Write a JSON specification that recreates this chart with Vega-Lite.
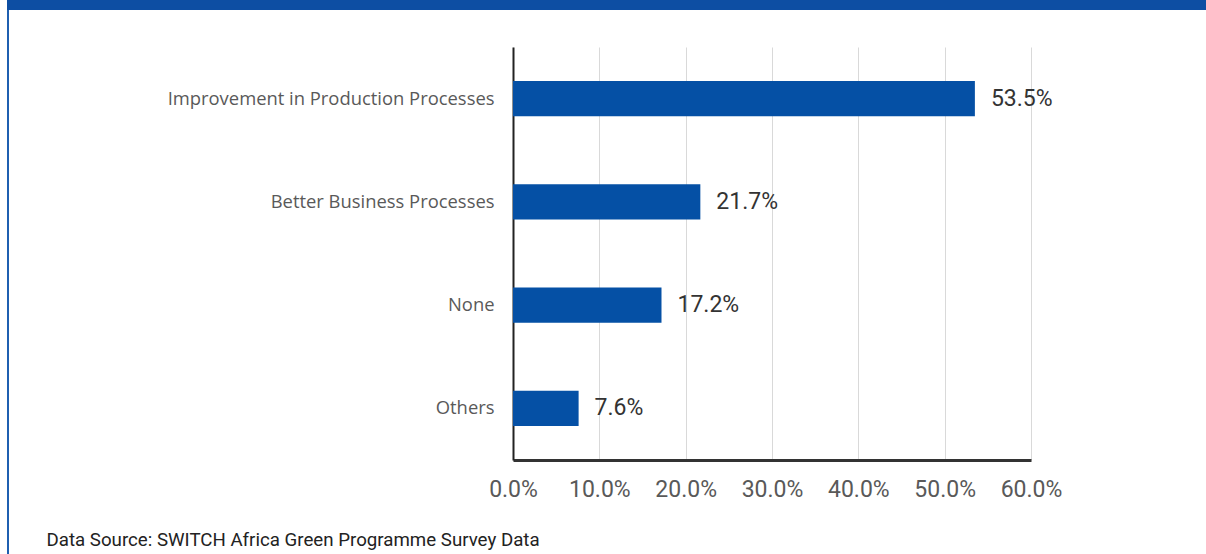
{
  "$schema": "https://vega.github.io/schema/vega-lite/v6.json",
  "padding": 0,
  "background": "white",
  "columns": 1,
  "align": "none",
  "spacing": 0,
  "config": {"view": {"stroke": null}, "font": "Roboto"},
  "concat": [
    {
      "width": 1206,
      "height": 10,
      "view": {"fill": "#0d4ea3", "stroke": null},
      "data": {"values": []},
      "mark": "point",
      "encoding": {}
    },
    {
      "width": 2,
      "height": 37,
      "view": {"fill": "#1f5fb0", "stroke": null},
      "data": {"values": []},
      "mark": "point",
      "encoding": {
        "y": {
          "field": "a",
          "type": "nominal",
          "axis": {"domain": false, "labels": false, "ticks": false, "grid": false, "title": null, "minExtent": 7, "maxExtent": 7}
        }
      }
    },
    {
      "columns": 2,
      "align": "none",
      "spacing": 0,
      "concat": [
        {
          "width": 2,
          "height": 507,
          "view": {"fill": "#1f5fb0", "stroke": null},
          "data": {"values": []},
          "mark": "point",
          "encoding": {
            "y": {
              "field": "a",
              "type": "nominal",
              "axis": {"domain": false, "labels": false, "ticks": false, "grid": false, "title": null, "minExtent": 7, "maxExtent": 7}
            }
          }
        },
        {
          "width": 518,
          "height": 413,
          "data": {
            "values": [
              {"category": "Improvement in Production Processes", "value": 0.535},
              {"category": "Better Business Processes", "value": 0.217},
              {"category": "None", "value": 0.172},
              {"category": "Others", "value": 0.076}
            ]
          },
          "encoding": {
            "y": {
              "field": "category",
              "type": "nominal",
              "sort": null,
              "scale": {"paddingInner": 0.66, "paddingOuter": 0.33},
              "axis": {
                "title": null,
                "ticks": false,
                "labelFont": "Open Sans",
                "labelFontSize": 18.4,
                "labelColor": "#595959",
                "labelPadding": 19,
                "labelLimit": 600,
                "domainColor": "#222222",
                "domainWidth": 2,
                "grid": false,
                "minExtent": 504,
                "maxExtent": 504
              }
            },
            "x": {
              "field": "value",
              "type": "quantitative",
              "scale": {"domain": [0, 0.6], "nice": false},
              "axis": {
                "title": "Data Source: SWITCH Africa Green Programme Survey Data",
                "titleFont": "Roboto",
                "titleFontSize": 18.7,
                "titleFontWeight": "normal",
                "titleColor": "#222222",
                "titleAnchor": "start",
                "titleAlign": "left",
                "titleBaseline": "alphabetic",
                "titleX": -467,
                "titleY": 85,
                "values": [0, 0.1, 0.2, 0.3, 0.4, 0.5, 0.6],
                "format": ".1%",
                "ticks": false,
                "labelFont": "Roboto",
                "labelFontSize": 23,
                "labelColor": "#595959",
                "labelPadding": 18,
                "labelFlush": false,
                "labelOverlap": false,
                "domainColor": "#333333",
                "domainWidth": 3,
                "grid": true,
                "gridColor": "#d9d9d9",
                "gridWidth": 1
              }
            }
          },
          "layer": [
            {"mark": {"type": "bar", "color": "#0550a5"}},
            {
              "mark": {
                "type": "text",
                "align": "left",
                "baseline": "middle",
                "dx": 16,
                "font": "Roboto",
                "fontSize": 23,
                "color": "#333333"
              },
              "encoding": {"text": {"field": "value", "type": "quantitative", "format": ".1%"}}
            }
          ]
        }
      ]
    }
  ]
}
